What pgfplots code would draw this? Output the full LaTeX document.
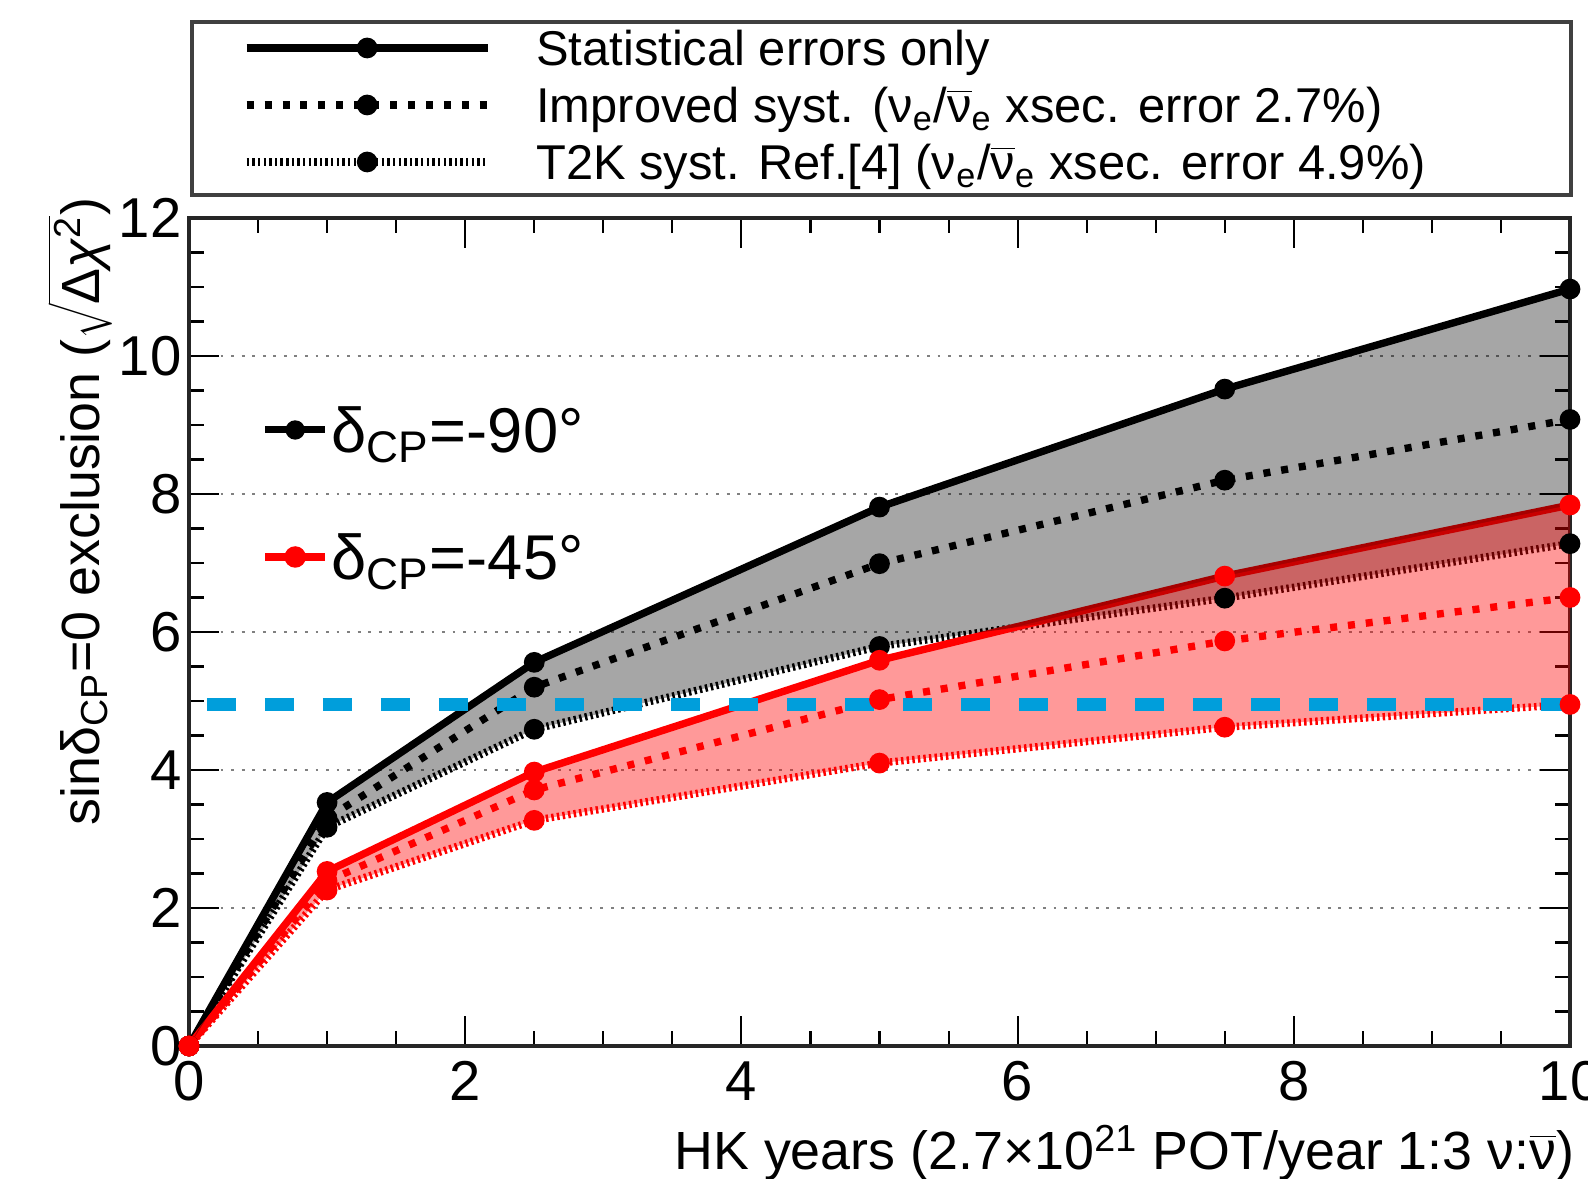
\documentclass[border=0pt]{standalone}
\usepackage{fontspec}
\setmainfont{Liberation Sans}
\usepackage{pgfplots}
\pgfplotsset{compat=1.18}
\usepackage{pgfplotstable}

\definecolor{bluel}{RGB}{0,158,219}
\definecolor{myred}{RGB}{255,0,0}

\pgfplotstableread{
x    bs     bd    bt    rs    rd    rt
0    0      0     0     0     0     0
1    3.53   3.30  3.17  2.53  2.39  2.26
2.5  5.56   5.20  4.59  3.97  3.71  3.27
5    7.81   6.99  5.79  5.59  5.02  4.10
7.5  9.52   8.20  6.49  6.81  5.87  4.62
10   10.97  9.08  7.28  7.84  6.50  4.95
}\datatab

\pgfplotsset{
  stat/.style={line width=2.1pt, mark=*, mark size=2.7pt, mark options={solid, line width=0.5pt}},
  impr/.style={line width=2.1pt, dash pattern=on 2pt off 3.1pt, mark=*, mark size=2.7pt, mark options={solid, line width=0.5pt}},
  t2k/.style={line width=2.1pt, dash pattern=on 0.7pt off 0.9pt, mark=*, mark size=2.7pt, mark options={solid, line width=0.5pt}},
}

\begin{document}
\begin{tikzpicture}
\begin{axis}[name=ax,
  width=13.81cm, height=8.28cm, scale only axis,
  xmin=0, xmax=10, ymin=0, ymax=12,
  xtick={0,2,...,10}, ytick={0,2,...,12}, minor tick num=3,
  tick align=inside, major tick length=0.3cm, minor tick length=0.15cm,
  tick style={black, line width=0.6pt},
  axis line style={line width=1.1pt, black!85},
  ymajorgrids, major grid style={gray, line width=0.7pt, dash pattern=on 0.8pt off 2.2pt},
  clip=false,
  /pgf/number format/assume math mode=true,
  ticklabel style={font=\fontsize{16}{16}\selectfont},
  xticklabel style={inner sep=0pt, anchor=north, yshift=-0.15cm},
  yticklabel style={inner sep=0pt, anchor=east, xshift=-0.07cm},
  label style={font=\fontsize{15.3}{17}\selectfont},
  xlabel={HK years (2.7×10\textsuperscript{21} POT/year 1:3 ν:$\overline{\mbox{ν}}$)},
  ylabel={sinδ\textsubscript{CP}=0 exclusion ($\sqrt{\mbox{Δ\textit{χ}\textsuperscript{2}}}$)},
  xlabel style={at={(rel axis cs:1,0)}, anchor=base east, inner sep=0pt, yshift=-1.24cm, xshift=0.05cm},
  ylabel style={at={(rel axis cs:0,1)}, anchor=east, inner sep=0pt, xshift=0.21cm, yshift=1.09cm},
  legend style={draw=none, fill=none, inner sep=0pt, outer sep=0pt,
    at={(rel axis cs:0,1)}, anchor=north west, xshift=0.54cm, yshift=1.975cm,
    row sep=0.02cm, column sep=0.45cm,
    nodes={inner sep=0pt, text height=0.45cm, text depth=0.1cm},
    font=\fontsize{13.9}{16}\selectfont},
  legend cell align=left,
  legend image code/.code={\draw[mark repeat=2,mark phase=2,#1] plot coordinates {(0cm,0cm) (1.205cm,0cm) (2.41cm,0cm)};},
]
% black lines with markers
\addplot[black, stat, forget plot] table[x=x,y=bs]{\datatab};
\addplot[black, impr, forget plot] table[x=x,y=bd]{\datatab};
\addplot[black, t2k, forget plot] table[x=x,y=bt]{\datatab};
% red lines
\addplot[myred, stat, mark=none, forget plot] table[x=x,y=rs]{\datatab};
\addplot[myred, impr, mark=none, forget plot] table[x=x,y=rd]{\datatab};
\addplot[myred, t2k, mark=none, forget plot] table[x=x,y=rt]{\datatab};
% bands
\addplot[draw=none, fill=black, fill opacity=0.35, forget plot] coordinates {
  (0,0) (1,3.53) (2.5,5.56) (5,7.81) (7.5,9.52) (10,10.97)
  (10,7.28) (7.5,6.49) (5,5.79) (2.5,4.59) (1,3.17) (0,0)};
\addplot[draw=none, fill=myred, fill opacity=0.4, forget plot] coordinates {
  (0,0) (1,2.53) (2.5,3.97) (5,5.59) (7.5,6.81) (10,7.84)
  (10,4.95) (7.5,4.62) (5,4.10) (2.5,3.27) (1,2.26) (0,0)};
% red markers
\addplot[myred, only marks, mark=*, mark size=2.7pt, mark options={line width=0.5pt}, forget plot] table[x=x,y=rs]{\datatab};
\addplot[myred, only marks, mark=*, mark size=2.7pt, mark options={line width=0.5pt}, forget plot] table[x=x,y=rd]{\datatab};
\addplot[myred, only marks, mark=*, mark size=2.7pt, mark options={line width=0.5pt}, forget plot] table[x=x,y=rt]{\datatab};
% 5 sigma line
\addplot[bluel, line width=3.7pt, dash pattern=on 8.25pt off 8.25pt, dash phase=11.4pt, forget plot] coordinates {(0,4.95) (10,4.95)};

\addlegendimage{black, stat}
\addlegendentry{Statistical errors only}
\addlegendimage{black, impr}
\addlegendentry{Improved syst. (ν\textsubscript{e}/$\overline{\mbox{ν}}$\textsubscript{e} xsec. error 2.7\%)}
\addlegendimage{black, t2k}
\addlegendentry{T2K syst. Ref.[4] (ν\textsubscript{e}/$\overline{\mbox{ν}}$\textsubscript{e} xsec. error 4.9\%)}

\draw[black!75, line width=0.9pt] ([xshift=0.03cm,yshift=0.23cm]rel axis cs:0,1) rectangle ([xshift=0.01cm,yshift=1.96cm]rel axis cs:1,1);
\end{axis}

\begin{axis}[
  width=13.81cm, height=8.28cm, scale only axis, hide axis,
  xmin=0, xmax=10, ymin=0, ymax=12,
  legend style={draw=none, fill=none, inner sep=0pt, outer sep=0pt,
    at={(rel axis cs:0,1)}, anchor=north west, xshift=0.72cm, yshift=-1.695cm,
    row sep=0.42cm, column sep=0.02cm,
    nodes={inner sep=0pt, text height=0.65cm, text depth=0.2cm},
    font=\fontsize{18}{20}\selectfont},
  legend cell align=left,
  legend image code/.code={\draw[mark repeat=2,mark phase=2,#1] plot coordinates {(0cm,0cm) (0.3cm,0cm) (0.6cm,0cm)};},
]
\addlegendimage{black, line width=2pt, mark=*, mark size=2.5pt, mark options={line width=0.5pt}}
\addlegendentry{δ\textsubscript{CP}=-90°}
\addlegendimage{myred, line width=2.4pt, mark=*, mark size=2.8pt, mark options={line width=0.5pt}}
\addlegendentry{δ\textsubscript{CP}=-45°}
\end{axis}

\pgfresetboundingbox
\path[use as bounding box] ([shift={(-1.89cm,-1.33cm)}]ax.south west) rectangle ([shift={(0.18cm,2.18cm)}]ax.north east);
\end{tikzpicture}
\end{document}
